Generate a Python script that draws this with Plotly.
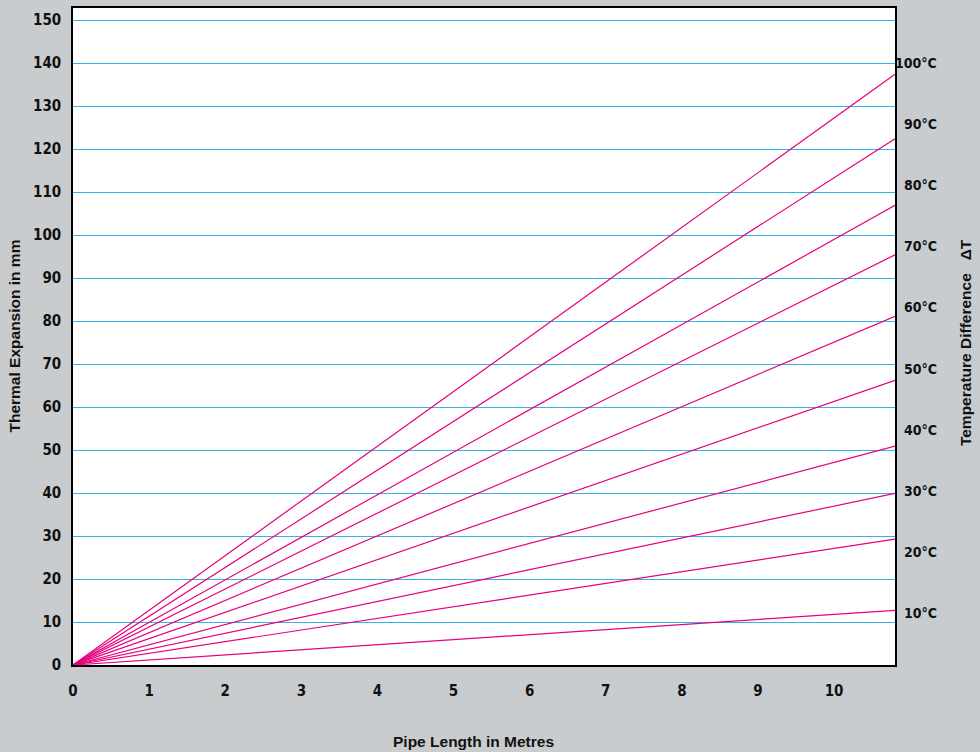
import plotly.graph_objects as go

# Data
delta_t = [10, 20, 30, 40, 50, 60, 70, 80, 90, 100]
pipe_length = [0, 10.8]
expansion_at_end = [12.7, 29.3, 39.9, 50.9, 66.2, 81.1, 95.4, 106.9, 122.4, 137.4]
x_ticks = list(range(0, 11))
y_ticks = list(range(0, 151, 10))
dt_labels = [f"{t}°C" for t in delta_t]

BG = "#c9ccce"
MAG = "#e6007e"
GRID = "#33b4e6"
FAM = "Liberation Sans Narrow, DejaVu Sans Condensed, Arial Narrow, Liberation Sans"
TICKFONT = dict(family=FAM, size=15, color="#111", weight="bold")
RIGHTFONT = dict(family=FAM, size=14, color="#111", weight="bold")
TITLEFONT = dict(family="Liberation Sans, Arial, Helvetica", size=15.5, color="#111", weight="bold")

fig = go.Figure()
for t, e in zip(delta_t, expansion_at_end):
    fig.add_trace(go.Scatter(
        x=pipe_length, y=[0, e], mode="lines",
        line=dict(color=MAG, width=1.2), showlegend=False, hoverinfo="skip",
        name=f"{t}°C"))

# invisible trace for secondary axis
fig.add_trace(go.Scatter(x=[None], y=[None], yaxis="y2", showlegend=False))

fig.update_layout(
    width=980, height=752,
    paper_bgcolor=BG, plot_bgcolor="white",
    margin=dict(l=73, r=85, t=6, b=87),
    xaxis=dict(range=[0, 10.8], tickvals=x_ticks, showgrid=False, zeroline=False,
               showline=True, linecolor="black", linewidth=1.5, mirror=True,
               ticks="", ticklabelstandoff=11, tickfont=TICKFONT),
    yaxis=dict(range=[0, 152.8], tickvals=y_ticks, showgrid=True, gridcolor=GRID,
               gridwidth=1.2, zeroline=False, showline=True, linecolor="black",
               linewidth=1.5, mirror=True, ticks="", ticklabelstandoff=7,
               tickfont=TICKFONT),
    yaxis2=dict(range=[1.52, 108.97], overlaying="y", side="right", showgrid=False,
                zeroline=False, showticklabels=False, ticks="", showline=False),
)

for t, lab in zip(delta_t, dt_labels):
    fig.add_annotation(x=1.0, xref="paper", xanchor="right", xshift=44,
                       y=t, yref="y2", text=lab, showarrow=False,
                       font=RIGHTFONT)

fig.add_annotation(x=-59 / 822, xref="paper", y=0.5, yref="paper",
                   text="Thermal Expansion in mm", xanchor="center",
                   textangle=-90, showarrow=False, font=TITLEFONT)
fig.add_annotation(x=1 + 70 / 822, xref="paper", y=0.49, yref="paper",
                   text="Temperature Difference&nbsp;&nbsp;&nbsp;ΔT", textangle=-90,
                   showarrow=False, font=TITLEFONT, xanchor="center")
fig.add_annotation(x=0.487, xref="paper", y=-77 / 659, yref="paper",
                   text="Pipe Length in Metres", showarrow=False,
                   font=TITLEFONT, yanchor="middle")

fig.write_html("out.html", config={"displayModeBar": False},
               post_script="document.body.style.margin='0';")
